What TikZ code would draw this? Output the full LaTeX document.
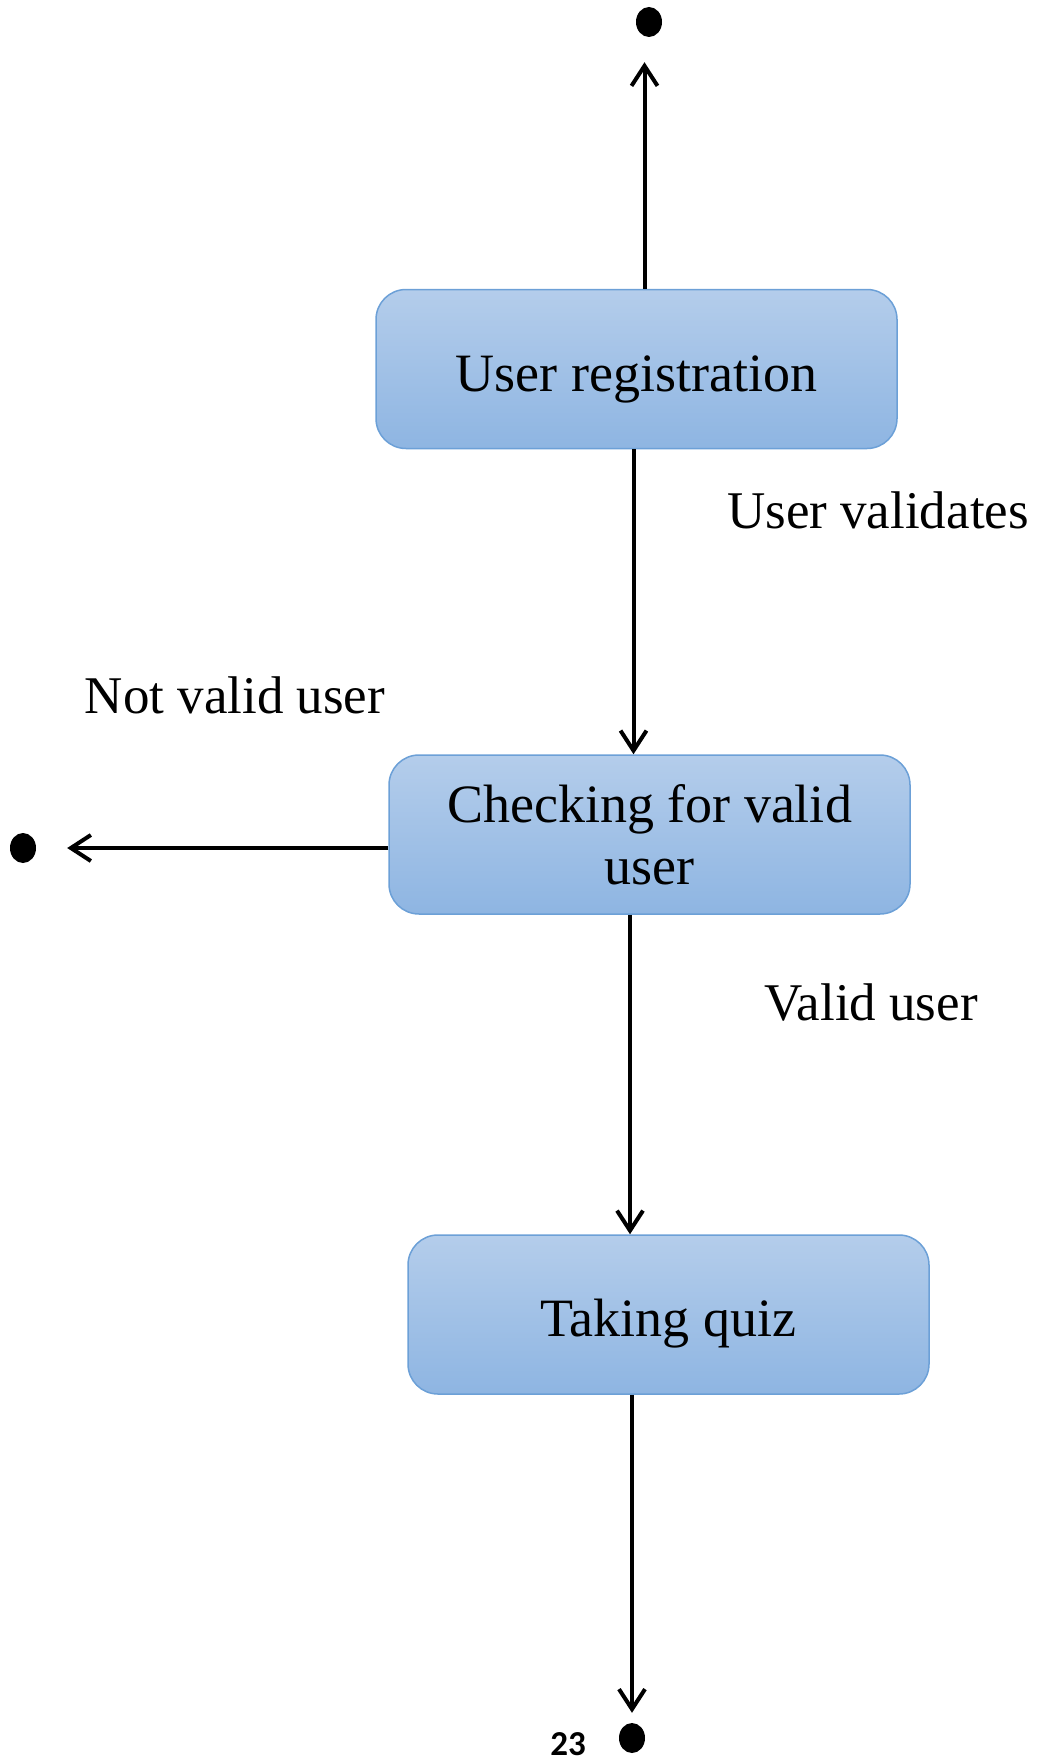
\documentclass[tikz,border=0pt]{standalone}
\usepackage{fontspec}
\setmainfont{Liberation Serif}
\newfontfamily\pagenumfont{Carlito}
\usepackage{tikz}
\usetikzlibrary{shapes, positioning}
\usetikzlibrary{calc}
\usetikzlibrary{arrows.meta}
\usepackage{xcolor}
\definecolor{statetop}{RGB}{180,205,235}
\definecolor{statebot}{RGB}{142,181,226}
\definecolor{stateline}{RGB}{108,160,215}

\tikzset{
	state/.style={rectangle, rounded corners=30pt, draw=stateline, line width=1.5pt,
		top color=statetop, bottom color=statebot, minimum width=521pt, minimum height=159pt,
		align=center, font=\fontsize{54}{62}\selectfont},
	oneline/.style={text height=44pt, text depth=0pt},
	enddot/.style={ellipse, fill=black, minimum width=26pt, minimum height=30pt, inner sep=0pt},
	flow/.style={line width=4pt, -{Straight Barb[length=20pt, width=26pt]}},
	guard/.style={anchor=base, font=\fontsize{53}{60}\selectfont}
}

\begin{document}
\begin{tikzpicture}[x=1pt, y=-1pt]
	\useasboundingbox (0,0) rectangle (1038,1763);
	
	% Draw states
	\node[state, oneline] (reg) at (636.5,369) {User registration};
	\node[state] (chk) at (649.5,834.5) {Checking for valid\\user};
	\node[state, oneline] (quiz) at (668.5,1314.5) {Taking quiz};
	
	% Draw end points
	\node[enddot] (fintop) at (649,22) {};
	\node[enddot] (finleft) at (23,848) {};
	\node[enddot] (finbot) at (632,1738) {};
	
	% Draw transitions
	\draw[flow, shorten >=25pt] ([xshift=8pt]reg.north) -- ([xshift=8pt]reg.north |- fintop.south);
	\draw[flow] ([xshift=-3pt]reg.south) -- ([xshift=-3pt]reg.south |- chk.north);
	\draw[flow, shorten >=31pt] (chk.west |- finleft) -- (finleft.east);
	\draw[flow] ([xshift=-19.5pt]chk.south) -- ([xshift=-19.5pt]chk.south |- quiz.north);
	\draw[flow, shorten >=10pt] (quiz.south -| finbot) -- (finbot.north);
	
	% Guard labels
	\node[guard] (lvalid) at (878,528) {User validates};
	\node[guard] (lnot) at (235,713) {Not valid user};
	\node[guard] (lok) at (871,1020) {Valid user};
	
	% Page number
	\node[anchor=base, font=\pagenumfont\bfseries\fontsize{35}{40}\selectfont] (pnum) at (568,1755) {23};
\end{tikzpicture}
\end{document}
